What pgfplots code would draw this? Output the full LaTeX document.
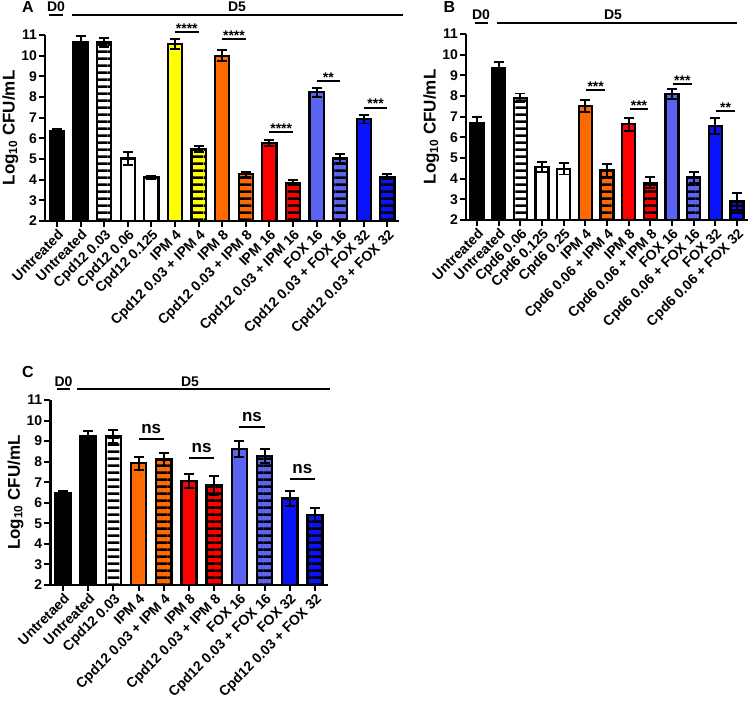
\documentclass[border=0pt]{standalone}
\usepackage{pgfplots}
\pgfplotsset{compat=1.18}
\usepackage{fontspec}
\setmainfont{Liberation Sans}
\usetikzlibrary{patterns}
\pgfdeclarepatternformonly{hstripes}{\pgfqpoint{0pt}{0pt}}{\pgfqpoint{12pt}{7.3pt}}{\pgfqpoint{12pt}{7.3pt}}{%
  \pgfpathrectangle{\pgfqpoint{0pt}{0pt}}{\pgfqpoint{12pt}{2.8pt}}\pgfusepath{fill}}
\definecolor{cyel}{HTML}{FFFF00}
\definecolor{corg}{HTML}{FF6A00}
\definecolor{cred}{HTML}{FF0000}
\definecolor{clbl}{HTML}{5A64F0}
\definecolor{cblu}{HTML}{0A14FA}
\newcommand\tf{\fontsize{14}{16}\selectfont\bfseries}
\pgfplotsset{
  bb/.style={ybar, bar shift=0pt, draw=black, line width=2.3pt,
    error bars/y dir=both, error bars/y explicit,
    error bars/error bar style={line width=1.9pt, black, solid},
    error bars/error mark options={rotate=90, mark size=5pt, line width=1.9pt, black}},
  hb/.style={bb, postaction={pattern=hstripes, pattern color=black}},
  panel/.style={scale only axis, clip mode=individual, axis on top,
    anchor=south west, xmin=-0.5, ymin=2, ymax=11,
    axis lines=left, axis line style={line width=2.4pt, -},
    ytick={2,...,11}, minor tick num=0,
    tick align=outside, major tick length=6pt, tick style={line width=1.9pt, black},
    /pgf/number format/assume math mode=true,
    every tick label/.append style={font=\tf},
    xticklabel style={rotate=45, anchor=north east, inner sep=1pt},
    yticklabel style={inner sep=2pt},
    ylabel={Log\textsubscript{10} CFU/mL},
    ylabel style={font=\fontsize{17}{17}\selectfont\bfseries, inner sep=1pt},
    bar width=0.6},
}
\tikzset{
  sig/.style={line width=2pt},
  stars/.style={anchor=base, yshift=-1pt, inner sep=0pt, font=\tf},
  nsl/.style={anchor=base, yshift=6pt, inner sep=0pt, font=\fontsize{17}{17}\selectfont\bfseries},
}
\begin{document}
\begin{tikzpicture}
% ---------------- Panel A ----------------
\begin{axis}[panel, at={(45.2pt,481pt)}, width=354pt, height=186pt, xmax=14.5,
  xtick={0,...,14},
  xticklabels={Untreated, Untreated, Cpd12 0.03, Cpd12 0.06, Cpd12 0.125, IPM 4, Cpd12 0.03 + IPM 4, IPM 8, Cpd12 0.03 + IPM 8, IPM 16, Cpd12 0.03 + IPM 16, FOX 16, Cpd12 0.03 + FOX 16, FOX 32, Cpd12 0.03 + FOX 32}]
\addplot[bb, fill=black] coordinates {(0,6.35) +- (0,0.12)};
\addplot[bb, fill=black] coordinates {(1,10.67) +- (0,0.28)};
\addplot[hb, fill=white] coordinates {(2,10.63) +- (0,0.22)};
\addplot[bb, fill=white] coordinates {(3,5.03) +- (0,0.30)};
\addplot[bb, fill=white] coordinates {(4,4.10) +- (0,0.07)};
\addplot[bb, fill=cyel] coordinates {(5,10.56) +- (0,0.24)};
\addplot[hb, fill=cyel] coordinates {(6,5.47) +- (0,0.15)};
\addplot[bb, fill=corg] coordinates {(7,10.00) +- (0,0.27)};
\addplot[hb, fill=corg] coordinates {(8,4.26) +- (0,0.13)};
\addplot[bb, fill=cred] coordinates {(9,5.76) +- (0,0.15)};
\addplot[hb, fill=cred] coordinates {(10,3.85) +- (0,0.13)};
\addplot[bb, fill=clbl] coordinates {(11,8.23) +- (0,0.21)};
\addplot[hb, fill=clbl] coordinates {(12,5.03) +- (0,0.20)};
\addplot[bb, fill=cblu] coordinates {(13,6.92) +- (0,0.20)};
\addplot[hb, fill=cblu] coordinates {(14,4.14) +- (0,0.12)};
\draw[sig] (axis cs:5,11.13) -- (axis cs:6,11.13) node[midway, stars] {****};
\draw[sig] (axis cs:7,10.80) -- (axis cs:8,10.80) node[midway, stars] {****};
\draw[sig] (axis cs:9,6.29) -- (axis cs:10,6.29) node[midway, stars] {****};
\draw[sig] (axis cs:11,8.77) -- (axis cs:12,8.77) node[midway, stars] {**};
\draw[sig] (axis cs:13,7.48) -- (axis cs:14,7.48) node[midway, stars] {***};
\end{axis}
% ---------------- Panel B ----------------
\begin{axis}[panel, at={(466.2pt,482pt)}, width=281.7pt, height=186pt, xmax=12.5,
  xtick={0,...,12},
  xticklabels={Untreated, Untreated, Cpd6 0.06, Cpd6 0.125, Cpd6 0.25, IPM 4, Cpd6 0.06 + IPM 4, IPM 8, Cpd6 0.06 + IPM 8, FOX 16, Cpd6 0.06 + FOX 16, FOX 32, Cpd6 0.06 + FOX 32}]
\addplot[bb, fill=black] coordinates {(0,6.68) +- (0,0.32)};
\addplot[bb, fill=black] coordinates {(1,9.34) +- (0,0.32)};
\addplot[hb, fill=white] coordinates {(2,7.92) +- (0,0.20)};
\addplot[bb, fill=white] coordinates {(3,4.58) +- (0,0.24)};
\addplot[bb, fill=white] coordinates {(4,4.47) +- (0,0.27)};
\addplot[bb, fill=corg] coordinates {(5,7.52) +- (0,0.28)};
\addplot[hb, fill=corg] coordinates {(6,4.39) +- (0,0.30)};
\addplot[bb, fill=cred] coordinates {(7,6.63) +- (0,0.32)};
\addplot[hb, fill=cred] coordinates {(8,3.80) +- (0,0.26)};
\addplot[bb, fill=clbl] coordinates {(9,8.08) +- (0,0.24)};
\addplot[hb, fill=clbl] coordinates {(10,4.07) +- (0,0.27)};
\addplot[bb, fill=cblu] coordinates {(11,6.55) +- (0,0.37)};
\addplot[hb, fill=cblu] coordinates {(12,2.89) +- (0,0.40)};
\draw[sig] (axis cs:5.05,8.29) -- (axis cs:5.9,8.29) node[midway, stars] {***};
\draw[sig] (axis cs:7.05,7.36) -- (axis cs:7.9,7.36) node[midway, stars] {***};
\draw[sig] (axis cs:9.05,8.58) -- (axis cs:9.9,8.58) node[midway, stars] {***};
\draw[sig] (axis cs:11.05,7.27) -- (axis cs:11.9,7.27) node[midway, stars] {**};
\end{axis}
% ---------------- Panel C ----------------
\begin{axis}[panel, at={(50.4pt,117pt)}, width=277.2pt, height=185pt, xmax=10.5,
  xtick={0,...,10},
  xticklabels={Untretaed, Untreated, Cpd12 0.03, IPM 4, Cpd12 0.03 + IPM 4, IPM 8, Cpd12 0.03 + IPM 8, FOX 16, Cpd12 0.03 + FOX 16, FOX 32, Cpd12 0.03 + FOX 32}]
\addplot[bb, fill=black] coordinates {(0,6.49) +- (0,0.09)};
\addplot[bb, fill=black] coordinates {(1,9.26) +- (0,0.23)};
\addplot[hb, fill=white] coordinates {(2,9.23) +- (0,0.30)};
\addplot[bb, fill=corg] coordinates {(3,7.92) +- (0,0.32)};
\addplot[hb, fill=corg] coordinates {(4,8.11) +- (0,0.32)};
\addplot[bb, fill=cred] coordinates {(5,7.06) +- (0,0.34)};
\addplot[hb, fill=cred] coordinates {(6,6.85) +- (0,0.45)};
\addplot[bb, fill=clbl] coordinates {(7,8.63) +- (0,0.39)};
\addplot[hb, fill=clbl] coordinates {(8,8.27) +- (0,0.33)};
\addplot[bb, fill=cblu] coordinates {(9,6.21) +- (0,0.37)};
\addplot[hb, fill=cblu] coordinates {(10,5.40) +- (0,0.33)};
\draw[sig] (axis cs:3,9.10) -- (axis cs:4,9.10) node[midway, nsl] {ns};
\draw[sig] (axis cs:5,8.16) -- (axis cs:6,8.16) node[midway, nsl] {ns};
\draw[sig] (axis cs:7,9.67) -- (axis cs:8,9.67) node[midway, nsl] {ns};
\draw[sig] (axis cs:9,7.15) -- (axis cs:10,7.15) node[midway, nsl] {ns};
\end{axis}
% ---------------- Annotations (pixel coords, origin top-left) ----------------
\begin{scope}[shift={(0pt,702pt)}, x=1pt, y=-1pt]
  \tikzset{dl/.style={line width=2.4pt}, dt/.style={anchor=base, inner sep=0pt, font=\tf},
           pl/.style={anchor=base, inner sep=0pt, font=\fontsize{16}{16}\selectfont\bfseries}}
  % A
  \node[pl] at (28,13) {A};
  \draw[dl] (49,15) -- (63,15);  \node[dt] at (56,12) {D0};
  \draw[dl] (72,15) -- (403,15); \node[dt] at (237,12) {D5};
  % B
  \node[pl] at (449.5,12.7) {B};
  \draw[dl] (475,23.3) -- (488,23.3); \node[dt] at (481,19.3) {D0};
  \draw[dl] (497,23.3) -- (737,23.3); \node[dt] at (613,19.3) {D5};
  % C
  \node[pl] at (28,378) {C};
  \draw[dl] (57,389.3) -- (70,389.3); \node[dt] at (63.5,386.7) {D0};
  \draw[dl] (77,389.3) -- (330,389.3); \node[dt] at (190,386.7) {D5};
\end{scope}
\pgfresetboundingbox
\path[use as bounding box] (0pt,0pt) rectangle (750pt,702pt);
\end{tikzpicture}
\end{document}
